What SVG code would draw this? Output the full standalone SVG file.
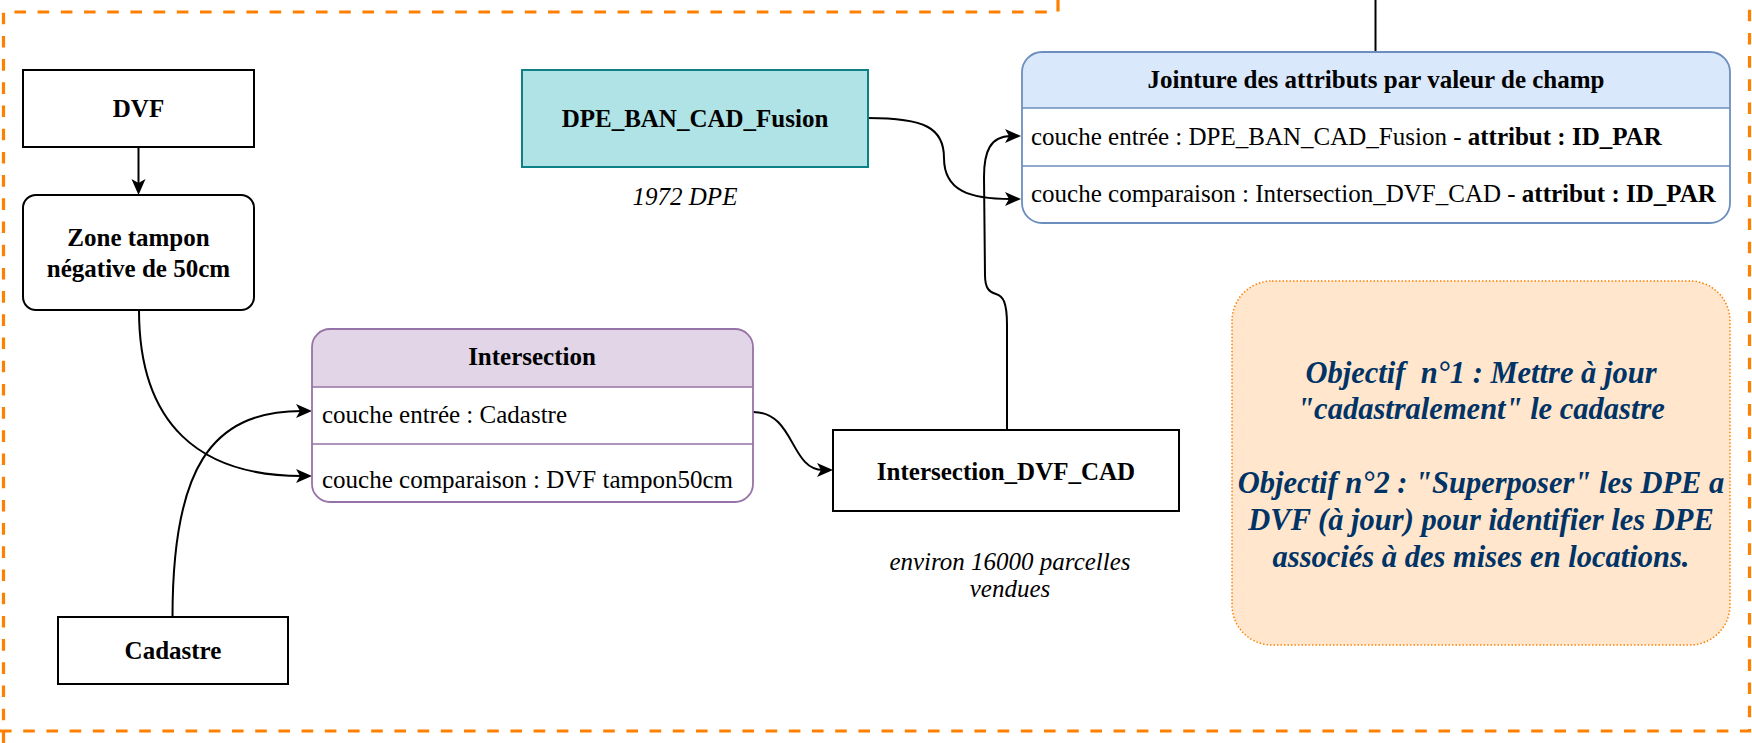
<svg xmlns="http://www.w3.org/2000/svg" width="1752" height="743" viewBox="0 0 1752 743">
<style>
.t{font-family:"Liberation Serif","Times New Roman",serif;font-size:25px;fill:#000}
.b{font-weight:bold}
.i{font-style:italic}
.c{text-anchor:middle}
.box{fill:#fff;stroke:#000;stroke-width:2}
.edge{fill:none;stroke:#000;stroke-width:2}
.frame{fill:none;stroke:#ff8000;stroke-width:3.2;stroke-dasharray:11.6 11.6}
.obj{font-family:"Liberation Serif","Times New Roman",serif;font-size:30.5px;font-weight:bold;font-style:italic;fill:#003366;text-anchor:middle;white-space:pre}
</style>
<defs>
<marker id="arr" markerUnits="userSpaceOnUse" markerWidth="16" markerHeight="16" viewBox="0 0 16 16" refX="6" refY="8" orient="auto">
<path d="M0,1 L16,8 L0,15 L4,8 Z" fill="#000"/>
</marker>
</defs>
<rect width="1752" height="743" fill="#fff"/>
<g id="frame">
<path class="frame" d="M1058,0 V12 H3.5 V743"/>
<path class="frame" d="M0,731 H1749.5 V0"/>
</g>
<g id="connectors">
<path class="edge" d="M138.5,147 V185" marker-end="url(#arr)"/>
<path class="edge" d="M139,310 C139,425 200,476 302,476" marker-end="url(#arr)"/>
<path class="edge" d="M172.5,617 C172.5,470 210,411 302,411" marker-end="url(#arr)"/>
<path class="edge" d="M753,412 C795,412 790,470 823,470" marker-end="url(#arr)"/>
<path class="edge" d="M1007,430 L1007,325 C1007,302 1003,296 996,294 C989,292 985,288 985,275 L984,177 C984,152 990,136 1011,136" marker-end="url(#arr)"/>
<path class="edge" d="M868,118 C925,118 944,128 944,158 C944,191 970,199 1011,199" marker-end="url(#arr)"/>
<path class="edge" d="M1375.5,0 V52"/>
</g>
<g id="dvf">
<rect class="box" x="23" y="70" width="231" height="77"/>
<text class="t b c" x="138.5" y="117">DVF</text>
</g>
<g id="zone-tampon">
<rect class="box" x="23" y="195" width="231" height="115" rx="13"/>
<text class="t b c" x="138.5" y="246">Zone tampon</text>
<text class="t b c" x="138.5" y="277">négative de 50cm</text>
</g>
<g id="cadastre">
<rect class="box" x="58" y="617" width="230" height="67"/>
<text class="t b c" x="173" y="659">Cadastre</text>
</g>
<g id="dpe-fusion">
<rect x="522" y="70" width="346" height="97" fill="#b0e3e6" stroke="#0e8088" stroke-width="2"/>
<text class="t b c" x="695" y="127">DPE_BAN_CAD_Fusion</text>
<text class="t i c" x="685" y="205">1972 DPE</text>
</g>
<g id="intersection">
<rect x="312" y="329" width="441" height="173" rx="18" fill="#fff"/>
<path d="M312,387 V347 A18,18 0 0 1 330,329 H735 A18,18 0 0 1 753,347 V387 Z" fill="#e1d5e7"/>
<path d="M312,387 H753 M312,444 H753" stroke="#9673a6" stroke-width="1.5"/>
<rect x="312" y="329" width="441" height="173" rx="18" fill="none" stroke="#9673a6" stroke-width="1.8"/>
<text class="t b c" x="532" y="365">Intersection</text>
<text class="t" x="322" y="423">couche entrée : Cadastre</text>
<text class="t" x="322" y="488">couche comparaison : DVF tampon50cm</text>
</g>
<g id="intersection-dvf-cad">
<rect class="box" x="833" y="430" width="346" height="81"/>
<text class="t b c" x="1006" y="480">Intersection_DVF_CAD</text>
<text class="t i c" x="1010" y="570">environ 16000 parcelles</text>
<text class="t i c" x="1010" y="597">vendues</text>
</g>
<g id="jointure">
<rect x="1022" y="52" width="708" height="171" rx="20" fill="#fff"/>
<path d="M1022,108 V72 A20,20 0 0 1 1042,52 H1710 A20,20 0 0 1 1730,72 V108 Z" fill="#dae8fc"/>
<path d="M1022,108 H1730 M1022,166 H1730" stroke="#6c8ebf" stroke-width="1.5"/>
<rect x="1022" y="52" width="708" height="171" rx="20" fill="none" stroke="#6c8ebf" stroke-width="1.8"/>
<text class="t b c" x="1376" y="88">Jointure des attributs par valeur de champ</text>
<text class="t" x="1031" y="145">couche entrée : DPE_BAN_CAD_Fusion - <tspan class="b">attribut : ID_PAR</tspan></text>
<text class="t" x="1031" y="202">couche comparaison : Intersection_DVF_CAD - <tspan class="b">attribut : ID_PAR</tspan></text>
</g>
<g id="objectifs">
<rect x="1232" y="281" width="498" height="364" rx="40" fill="#ffe6cc" stroke="#ff8000" stroke-width="1.5" stroke-dasharray="1.5 2"/>
<text class="obj" x="1481" y="383">Objectif  n°1 : Mettre à jour</text>
<text class="obj" x="1481" y="419">"cadastralement" le cadastre</text>
<text class="obj" x="1481" y="493">Objectif n°2 : "Superposer" les DPE a</text>
<text class="obj" x="1481" y="530">DVF (à jour) pour identifier les DPE</text>
<text class="obj" x="1481" y="567">associés à des mises en locations.</text>
</g>
</svg>
